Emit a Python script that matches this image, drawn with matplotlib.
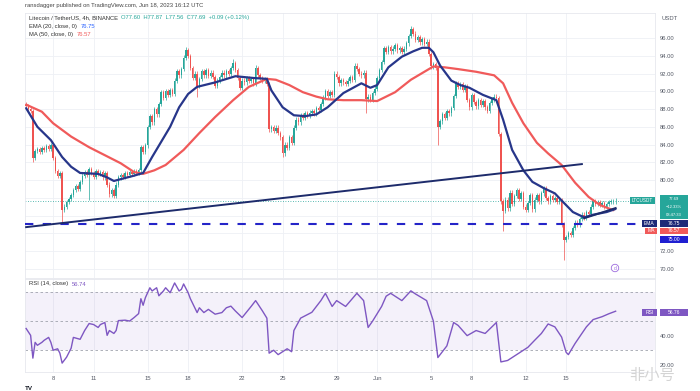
import matplotlib.pyplot as plt
from matplotlib.patches import Rectangle
from matplotlib.text import Annotation
import numpy as np

# LTC/USDT 4h candles, May 6 -> Jun 18 2023 (closes)
first_open = 88.5
closes = [
    88.3, 88.0, 87.8, 82.5, 83.3, 83.5, 83.2, 83.6, 83.4, 83.8,
    83.5, 83.9, 82.5, 81.0, 80.5, 80.8, 76.6, 77.0, 77.5, 77.9,
    78.3, 78.9, 79.3, 79.0, 79.8, 80.5, 80.9, 80.6, 81.2, 80.8,
    80.4, 81.0, 80.7, 80.9, 80.3, 80.8, 79.5, 78.4, 78.9, 78.2,
    79.5, 80.3, 80.6, 80.4, 80.8, 80.6, 80.9, 80.7, 81.0, 80.8,
    81.1, 83.7, 83.2, 83.9, 86.0, 87.2, 86.5, 88.0, 87.4, 88.6,
    89.9, 89.3, 90.0, 89.6, 90.1, 89.7, 91.2, 92.3, 91.8, 92.5,
    93.8, 94.6, 94.0, 92.6, 91.5, 92.0, 90.6, 91.4, 92.3, 91.8,
    92.4, 91.7, 92.1, 91.6, 90.6, 91.2, 91.6, 92.1, 91.8, 92.3,
    92.0, 92.6, 93.2, 92.4, 91.5, 90.4, 91.2, 91.0, 91.5, 91.2,
    91.4, 90.9, 92.6, 91.8, 91.5, 91.2, 91.4, 90.8, 85.7, 86.0,
    85.5, 85.9, 85.3, 84.8, 83.0, 84.0, 83.6, 84.8, 84.2, 85.9,
    86.8, 86.5, 87.3, 87.0, 87.5, 87.2, 87.6, 87.8, 87.5, 88.1,
    87.9, 88.6, 89.3, 90.0, 89.5, 89.9, 89.6, 92.0, 91.6, 90.9,
    91.3, 91.0, 90.8, 91.2, 91.6, 91.3, 92.9, 92.5, 92.0, 91.8,
    92.1, 89.1, 89.4, 89.0, 89.8, 90.3, 91.5, 92.4, 93.3, 94.9,
    94.4, 95.0, 94.5, 94.8, 95.2, 94.6, 94.9, 94.4, 94.8, 95.4,
    96.2, 97.0, 96.5, 95.8, 96.1, 95.5, 95.9, 95.3, 95.6, 94.2,
    92.8, 93.1, 92.6, 86.0, 86.6, 87.4, 87.0, 87.8, 87.5, 88.1,
    89.5, 90.9, 90.5, 90.8, 90.2, 90.6, 89.0, 88.2, 89.6, 88.8,
    88.3, 89.0, 88.5, 88.9, 88.2, 87.8, 88.7, 89.1, 89.4, 89.2,
    85.2, 77.6, 76.5, 77.8, 76.8, 78.6, 77.3, 78.2, 78.9, 77.9,
    78.5, 77.0, 76.6, 77.4, 78.3, 76.7, 77.8, 78.3, 77.6, 78.5,
    79.1, 78.0, 77.6, 78.2, 77.8, 78.0, 77.5, 77.7, 75.0, 73.3,
    73.6, 74.0, 73.8, 74.6, 75.2, 75.0, 75.6, 76.1, 75.8, 76.4,
    76.2, 77.0, 77.6, 77.3, 77.5, 77.2, 77.4, 77.0, 77.3, 77.5,
    77.6, 77.6, 77.69,
]
# the long wicks that stand out
wick_highs = {71: 95.0, 92: 93.6, 102: 93.0, 171: 97.4}
wick_lows = {3: 82.0, 16: 75.1, 28: 77.8, 76: 89.4, 114: 82.6, 151: 87.5,
             183: 84.0, 212: 74.3, 239: 71.0}

# EMA 20 and MA 50 as drawn (candle index, price)
ema_idx = [0, 5, 11, 16, 20, 24, 32, 36, 39, 42, 48, 52, 56, 60, 64, 68, 72, 76,
           84, 93, 101, 107, 109, 114, 119, 124, 129, 134, 141, 149, 153, 156,
           161, 167, 172, 176, 179, 181, 184, 189, 193, 197, 203, 209, 212, 216,
           221, 225, 230, 235, 238, 243, 248, 252, 258, 262]
ema_val = [88.1, 86.0, 84.5, 82.6, 81.5, 80.8, 80.7, 80.3, 79.9, 80.1, 80.5, 80.8,
           82.6, 84.3, 86.0, 88.2, 89.7, 90.5, 91.0, 91.7, 91.5, 91.4, 90.1, 88.2,
           87.3, 87.2, 87.4, 88.2, 89.8, 90.9, 90.4, 90.7, 92.7, 93.9, 94.5, 94.9,
           94.9, 94.4, 92.9, 91.2, 90.7, 90.4, 89.6, 89.0, 86.8, 83.4, 81.1, 79.8,
           79.1, 78.5, 77.7, 76.4, 75.8, 76.1, 76.4, 76.75]
ma_idx = [0, 7, 12, 20, 28, 35, 42, 48, 52, 57, 62, 70, 77, 84, 92, 99, 107, 111,
          117, 123, 129, 134, 141, 149, 156, 164, 171, 177, 181, 186, 192, 200,
          208, 212, 216, 221, 227, 232, 238, 244, 250, 255, 261]
ma_val = [88.5, 87.7, 86.4, 84.9, 83.7, 82.8, 81.9, 80.9, 80.7, 81.1, 81.7, 83.4,
          85.3, 87.1, 89.0, 90.5, 91.4, 91.3, 90.7, 89.9, 89.4, 89.1, 89.0, 89.0,
          88.9, 89.9, 91.3, 92.2, 92.8, 92.7, 92.5, 92.2, 91.8, 90.9, 88.7, 86.4,
          84.2, 83.0, 81.7, 79.7, 78.1, 77.2, 76.6]

# RSI 14 as drawn
rsi_idx = [0, 2, 3, 4, 5, 7, 8, 10, 11, 12, 14, 15, 16, 18, 20, 21, 24, 26, 28,
           30, 32, 33, 35, 36, 37, 39, 40, 41, 44, 46, 48, 50, 51, 52, 53, 55, 56,
           58, 59, 61, 62, 64, 66, 68, 69, 70, 72, 73, 76, 77, 79, 81, 84, 87, 89,
           91, 93, 96, 100, 102, 105, 107, 108, 110, 112, 116, 118, 119, 122, 127,
           131, 133, 136, 138, 142, 147, 150, 152, 154, 158, 160, 162, 167, 171,
           173, 178, 181, 183, 187, 190, 192, 196, 200, 204, 209, 211, 214, 219,
           223, 226, 229, 232, 235, 238, 240, 241, 244, 247, 249, 252, 256, 259, 262]
rsi_val = [44.9, 40.2, 24.6, 35.4, 33.4, 35.4, 36.8, 38.8, 35.4, 30.0, 31.0, 28.0,
           21.2, 25.3, 31.4, 38.8, 37.5, 43.5, 48.3, 47.6, 45.6, 47.6, 49.0, 40.2,
           43.5, 41.5, 43.5, 50.3, 50.6, 50.0, 52.4, 55.1, 65.3, 60.8, 66.0, 72.8,
           70.6, 72.8, 67.3, 70.6, 72.8, 69.4, 76.1, 70.6, 71.7, 75.4, 69.4, 65.3,
           55.8, 59.1, 55.8, 58.0, 54.7, 55.8, 59.1, 60.2, 56.9, 52.4, 60.0, 64.0,
           57.0, 52.0, 28.0, 30.0, 27.0, 31.0, 29.0, 43.5, 52.0, 56.0, 64.0, 69.0,
           60.0, 64.0, 60.0, 69.0, 64.0, 45.6, 50.0, 60.0, 67.0, 69.0, 64.0, 70.7,
           68.6, 64.0, 50.0, 25.0, 33.0, 49.0, 47.0, 40.0, 43.5, 41.5, 49.0, 22.0,
           23.0, 28.0, 32.0, 36.8, 41.5, 48.0, 46.0, 39.0, 28.6, 27.0, 34.7, 41.5,
           46.0, 51.0, 53.0, 55.0, 56.74]

# drawn lines: rising trendline, short support line, horizontal support
trend_idx = [0, 247]
trend_val = [74.7, 81.8]
short_idx = [248, 262]
short_val = [75.7, 76.85]
support = 75.0
last_price = 77.69

tick_idx = [12, 30, 54, 72, 96, 114, 138, 156, 180, 198, 222, 240]
tick_lbl = ['8', '11', '15', '18', '22', '25', '29', 'Jun', '5', '8', '12', '15']
price_ticks = list(range(70, 98, 2))
hidden_prices = [74, 76, 78]  # covered by the price scale tags

W, H = 700, 391
UP, DOWN = '#26a69a', '#ef5350'
NAVY, RED, PURPLE = '#27368a', '#f05a5a', '#7e57c2'
GRID = '#eef0f5'
TXT = '#555a66'
FS = 4.2

plt.rcParams['font.family'] = ['Liberation Sans', 'Noto Sans CJK SC']


def fx(px):
    return px / W


def fy(py):
    return 1 - py / H


def tag(x0, x1, y0, y1, color, text, size=3.6):
    fig.add_artist(Rectangle((fx(x0), fy(y1)), (x1 - x0) / W, (y1 - y0) / H,
                             transform=fig.transFigure, color=color, lw=0))
    fig.text(fx((x0 + x1) / 2), fy((y0 + y1) / 2), text, ha='center',
             va='center', fontsize=size, color='white')


fig = plt.figure(figsize=(7, 3.91), dpi=100)
ax = fig.add_axes([fx(25), fy(278), (655 - 25) / W, (278 - 13) / H])
rax = fig.add_axes([fx(25), fy(372), (655 - 25) / W, (372 - 279) / H])

c = np.array(closes)
x = np.arange(len(c))
o = np.r_[first_open, c[:-1]]
colors = np.where(c >= o, UP, DOWN)
hi = np.maximum(o, c) + 0.25
lo = np.minimum(o, c) - 0.25
for k, v in wick_highs.items():
    hi[k] = v
for k, v in wick_lows.items():
    lo[k] = v

ax.vlines(x, lo, hi, colors=colors, lw=0.5, zorder=3)
ax.bar(x, np.maximum(np.abs(c - o), 0.08), bottom=np.minimum(o, c), width=0.62,
       color=colors, lw=0, zorder=3)

ax.plot(ma_idx, ma_val, color=RED, lw=1.6, zorder=4, solid_capstyle='round',
        solid_joinstyle='round')
ax.plot(ema_idx, ema_val, color=NAVY, lw=1.6, zorder=5, solid_capstyle='round',
        solid_joinstyle='round')
ax.plot(trend_idx, trend_val, color='#1d2b6b', lw=1.4, zorder=5)
ax.plot(short_idx, short_val, color='#1d2b6b', lw=1.4, zorder=5)
ax.axhline(support, color='#2424c8', lw=1.5, ls=(0, (4, 4.5)), zorder=4)
ax.axhline(last_price, color=UP, lw=0.6, ls=(0, (1, 2)), zorder=2)

ax.set_xlim(-0.5, 279.5)
ax.set_ylim(68.97, 98.82)
ax.set_yticks(price_ticks)
ax.set_yticklabels(['' if v in hidden_prices else f'{v:.2f}' for v in price_ticks])
ax.yaxis.tick_right()
ax.tick_params(axis='y', length=0, pad=3.6, labelsize=FS, labelcolor=TXT)
ax.set_xticks(tick_idx)
ax.tick_params(axis='x', length=0, labelbottom=False)
ax.grid(color=GRID, lw=0.6)
ax.set_axisbelow(True)

# RSI pane
rax.axhspan(30, 70, color=PURPLE, alpha=0.08, lw=0)
for lvl in (70, 50, 30):
    rax.axhline(lvl, color='#a0a3ad', lw=0.6, ls=(0, (3, 3)))
rax.plot(rsi_idx, rsi_val, color=PURPLE, lw=1.0, zorder=4)
rax.set_xlim(-0.5, 279.5)
rax.set_ylim(15.1, 78.8)
rax.set_yticks([20, 40])
rax.set_yticklabels(['20.00', '40.00'])
rax.yaxis.tick_right()
rax.tick_params(axis='y', length=0, pad=3.6, labelsize=FS, labelcolor=TXT)
rax.set_xticks(tick_idx)
rax.set_xticklabels(tick_lbl)
rax.tick_params(axis='x', length=0, pad=2.6, labelsize=FS, labelcolor=TXT)
rax.grid(axis='x', color=GRID, lw=0.6)
rax.set_axisbelow(True)

for a in (ax, rax):
    for s in a.spines.values():
        s.set_color('#e6e8ee')
        s.set_linewidth(0.6)

# header and legends, each value placed right after its label
fig.text(fx(25), fy(5), 'ransdagger published on TradingView.com, Jun 18, 2023 16:12 UTC',
         fontsize=FS, color='#444', va='center')
rows = [
    (18, 'Litecoin / TetherUS, 4h, BINANCE',
     'O77.60  H77.87  L77.56  C77.69  +0.09 (+0.12%)', UP),
    (26.5, 'EMA (20, close, 0)', '76.75', '#2962ff'),
    (34.5, 'MA (50, close, 0)', '76.57', RED),
    (284, 'RSI (14, close)', '56.74', PURPLE),
]
for py, label, value, col in rows:
    t = fig.text(fx(29), fy(py), label, fontsize=FS, color='#333', va='center')
    fig.add_artist(Annotation(value, xy=(1, 0.5), xycoords=t, xytext=(2.5, 0),
                              textcoords='offset points', va='center', fontsize=FS,
                              color=col))
fig.text(fx(662), fy(18), 'USDT', fontsize=FS, color=TXT, va='center')

# price scale tags
tag(630, 655, 196.5, 203.5, UP, 'LTCUSDT', size=3.3)
fig.add_artist(Rectangle((fx(660), fy(219)), 28 / W, 24 / H,
                         transform=fig.transFigure, color=UP, lw=0))
for yy, s in ((199, '77.69'), (207, '\u221212.33%'), (215, '03:47:33')):
    fig.text(fx(674), fy(yy), s, ha='center', va='center', fontsize=3.0, color='white')
tag(642, 657, 220, 226.5, '#1e2a78', 'EMA')
tag(660, 688, 220, 226.5, '#1e2a78', '76.75')
tag(645, 657, 227.5, 234, RED, 'MA')
tag(660, 688, 227.5, 234, RED, '76.57')
tag(660, 688, 235.5, 243, '#1f1fd1', '75.00')
tag(642, 657, 309, 315.5, PURPLE, 'RSI')
tag(660, 688, 309, 315.5, PURPLE, '56.76')

# small event marker, logo and watermark
fig.text(fx(615), fy(268), 'd', ha='center', va='center', fontsize=3.5, color='#9c6ade',
         bbox=dict(boxstyle='circle,pad=0.25', fc='white', ec='#9c6ade', lw=0.6))
fig.text(fx(25), fy(388), 'TV', fontsize=4.5, weight='bold', color='#131722', va='center')
fig.text(fx(652), fy(375), '非小号', fontsize=11, color='#d4d4d4', ha='center', va='center',
         family=['Noto Sans CJK SC', 'DejaVu Sans'])

fig.savefig('out.png', dpi=100, facecolor='white')
